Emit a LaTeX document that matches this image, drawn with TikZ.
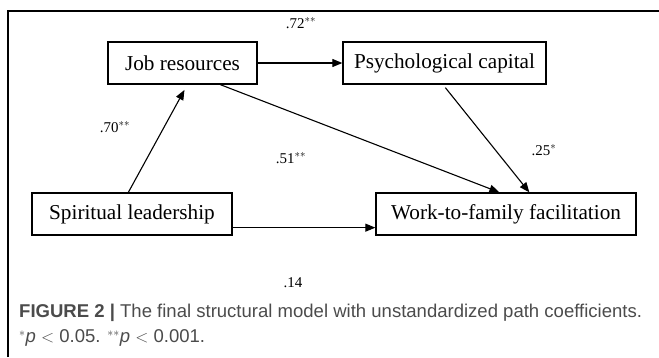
\documentclass[tikz,border=0pt]{standalone}
\usepackage{fontspec}
\setmainfont{Liberation Serif}
\newfontfamily\capfont{Liberation Sans}
\usetikzlibrary{arrows.meta,calc}
\definecolor{capgray}{RGB}{75,75,75}
\begin{document}
\begin{tikzpicture}[x=1bp,y=-1bp,
  box/.style={draw,line width=1.3bp,inner sep=0pt,font=\fontsize{21.3}{23}\selectfont},
  arr/.style={line width=1.1bp,-{Triangle[length=10bp,width=8bp]}},
  coef/.style={font=\fontsize{15}{17}\selectfont,inner sep=0pt}]
\useasboundingbox (0,0) rectangle (659,357);
\draw[line width=1.2bp] (8,357) -- (8,11) -- (659,11);
\node[box,minimum width=149bp,minimum height=42bp] (job) at (182.5,63) {Job resources};
\node[box,minimum width=203bp,minimum height=42bp] (psy) at (444.5,63) {Psychological capital};
\node[box,minimum width=200bp,minimum height=42bp] (sl) at (132,214) {Spiritual leadership};
\node[box,minimum width=260bp,minimum height=42bp] (wf) at (506,214) {Work-to-family facilitation};
\draw[arr] (job.east) -- (psy.west);
\draw[arr,shorten >=6bp] ($(sl.north west)+(97,0)$) -- ($(job.south west)+(80,0)$);
\draw[arr] ($(job.south west)+(113,0)$) -- ($(wf.north west)+(124,0)$);
\draw[arr] ($(psy.south west)+(103,3)$) -- ($(wf.north west)+(154,0)$);
\draw[arr] ($(sl.south east)+(0,-8)$) -- ($(wf.south west)+(0,-8)$);
\node[coef] (c72) at (301,23) {.72$^{**}$};
\node[coef] (c70) at (115,127) {.70$^{**}$};
\node[coef] (c51) at (291,158) {.51$^{**}$};
\node[coef] (c25) at (544,150) {.25$^{*}$};
\node[coef] (c14) at (293,283) {.14};
\node[anchor=west,inner sep=0pt,text=capgray,font=\capfont\fontsize{18.6}{21}\selectfont] (cap1) at (19,313) {\textbf{FIGURE 2 |} The final structural model with unstandardized path coefficients.};
\node[anchor=west,inner sep=0pt,text=capgray,font=\capfont\fontsize{18.6}{21}\selectfont] (cap2) at (19,338) {$^{*}$\textit{p} $<$ 0.05. $^{**}$\textit{p} $<$ 0.001.};
\end{tikzpicture}
\end{document}
